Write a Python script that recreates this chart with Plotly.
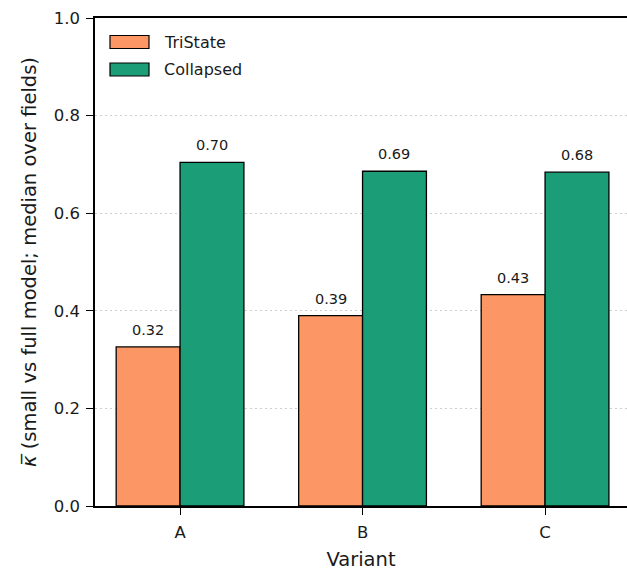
import plotly.graph_objects as go

categories = ["A", "B", "C"]
tristate = [0.326, 0.390, 0.433]
collapsed = [0.704, 0.686, 0.684]
tristate_labels = ["0.32", "0.39", "0.43"]
collapsed_labels = ["0.70", "0.69", "0.68"]
series_names = ["TriState", "Collapsed"]
yticks = [0.0, 0.2, 0.4, 0.6, 0.8, 1.0]

W = 0.35
idx = list(range(len(categories)))
x_tri = [i - W / 2 for i in idx]
x_col = [i + W / 2 for i in idx]

FONT = "DejaVu Sans"
ORANGE = "#fc9765"
GREEN = "#1b9e77"
TXT = "#1a1a1a"
colors = [ORANGE, GREEN]

# plot area in pixels
L, T, B = 95, 18, 65
FW, FH = 627, 571
PW, PH = FW - L, FH - T - B

def px_x(p):
    return (p - L) / PW

def px_y(p):
    return (FH - B - p) / PH

fig = go.Figure()
for xs, ys, name, c in [(x_tri, tristate, series_names[0], ORANGE),
                        (x_col, collapsed, series_names[1], GREEN)]:
    fig.add_trace(go.Bar(x=xs, y=ys, width=W, name=name, showlegend=False,
                         hoverinfo="skip",
                         marker=dict(color=c, line=dict(color="black", width=1.3))))

for xs, ys, ls in [(x_tri, tristate, tristate_labels), (x_col, collapsed, collapsed_labels)]:
    for x, y, t in zip(xs, ys, ls):
        fig.add_annotation(x=x, y=y, text=t, showarrow=False, yanchor="bottom",
                           yshift=7, font=dict(family=FONT, size=14.5, color=TXT))

# legend drawn as patches
for k, (name, c) in enumerate(zip(series_names, colors)):
    y0, y1 = (35.5, 48.5) if k == 0 else (63, 76)
    fig.add_shape(type="rect", xref="paper", yref="paper",
                  x0=px_x(110), x1=px_x(149), y0=px_y(y1), y1=px_y(y0),
                  fillcolor=c, line=dict(color="black", width=1.2))
    fig.add_annotation(xref="paper", yref="paper", x=px_x(162), y=px_y((y0 + y1) / 2),
                       text=name, showarrow=False, xanchor="left", yanchor="middle",
                       font=dict(family=FONT, size=16, color=TXT))

fig.update_layout(
    width=FW, height=FH,
    margin=dict(l=L, r=0, t=T, b=B),
    plot_bgcolor="white", paper_bgcolor="white",
    font=dict(family=FONT, size=16, color="black"),
    barmode="overlay",
    showlegend=False,
)
fig.update_xaxes(
    range=[-0.466, 2.449], tickvals=idx, ticktext=categories, automargin=False,
    showline=True, linecolor="black", linewidth=1.5, mirror=True,
    ticks="outside", ticklen=7, tickwidth=1.3, tickcolor="black",
    ticklabelstandoff=3,
    showgrid=False, zeroline=False,
    title=dict(text="Variant", font=dict(family=FONT, size=19.5, color=TXT), standoff=14),
    tickfont=dict(family=FONT, size=16.5, color=TXT),
)
fig.update_yaxes(
    range=[0, 1.0], tickvals=yticks, tickformat=".1f", automargin=False,
    showline=True, linecolor="black", linewidth=1.5,
    ticks="outside", ticklen=7, tickwidth=1.3, tickcolor="black",
    ticklabelstandoff=3,
    showgrid=True, gridcolor="#cfcfcf", griddash="1.5px,3.5px", gridwidth=1,
    zeroline=False,
    title=dict(text="<i>κ̅</i> (small vs full model; median over fields)",
               font=dict(family=FONT, size=19.5, color=TXT), standoff=12),
    tickfont=dict(family=FONT, size=16.5, color=TXT),
)
fig.write_html("out.html", config={"displayModeBar": False},
               post_script="document.body.style.margin='0';document.body.style.overflow='hidden';")
